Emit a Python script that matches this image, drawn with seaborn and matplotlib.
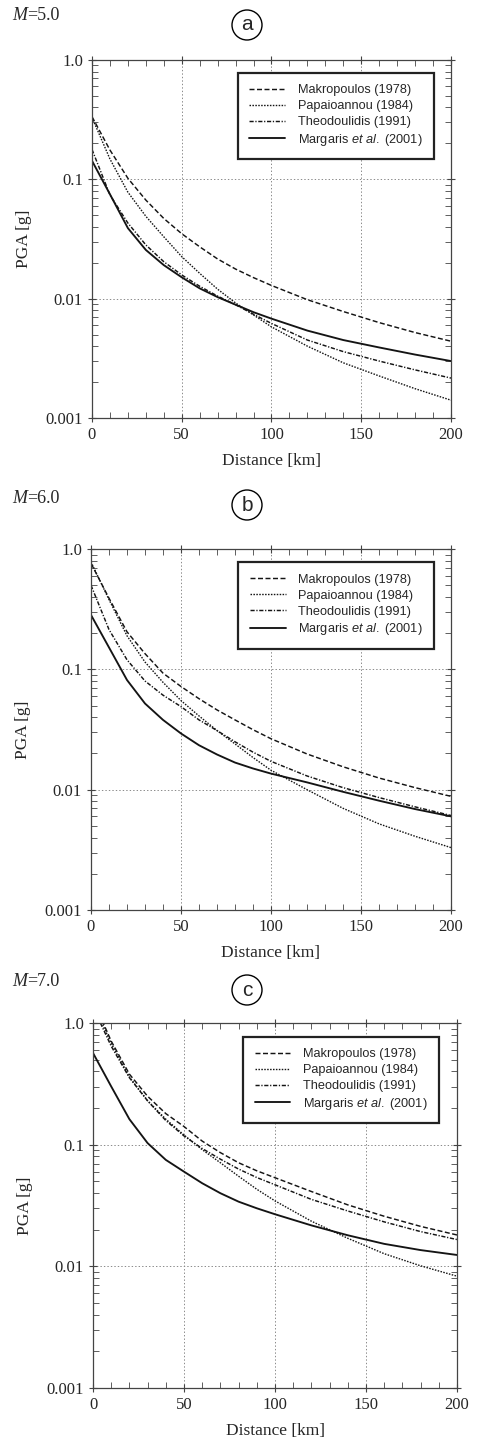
import pandas as pd
import seaborn as sns
import matplotlib.pyplot as plt
from matplotlib.patches import Ellipse
from matplotlib.ticker import FixedLocator, MultipleLocator, LogLocator, NullFormatter

# epicentral distance [km], same sampling for every curve
dist = [0, 10, 20, 30, 40, 50, 60, 70, 80, 90, 100, 120, 140, 160, 180, 200]

# PGA [g], M = 5.0
makro_a = [0.335, 0.176, 0.102, 0.067, 0.047, 0.035, 0.0272, 0.0215, 0.0177, 0.0150, 0.0129, 0.0098, 0.0078, 0.0063, 0.0052, 0.0044]
papa_a = [0.33, 0.148, 0.078, 0.049, 0.033, 0.0225, 0.0163, 0.0120, 0.0092, 0.0073, 0.0058, 0.0040, 0.0029, 0.00225, 0.00176, 0.00141]
theo_a = [0.178, 0.074, 0.043, 0.0282, 0.0204, 0.0158, 0.0127, 0.0105, 0.0089, 0.0074, 0.0062, 0.0045, 0.0036, 0.0030, 0.00253, 0.00216]
marg_a = [0.143, 0.075, 0.039, 0.0256, 0.0191, 0.0151, 0.0122, 0.0103, 0.0089, 0.0077, 0.0068, 0.0054, 0.0045, 0.0039, 0.0034, 0.0030]

# PGA [g], M = 6.0
makro_b = [0.76, 0.39, 0.205, 0.135, 0.093, 0.072, 0.057, 0.046, 0.038, 0.0315, 0.0265, 0.0198, 0.0155, 0.0125, 0.0104, 0.0088]
papa_b = [0.78, 0.38, 0.19, 0.115, 0.078, 0.055, 0.041, 0.031, 0.024, 0.0185, 0.0145, 0.0100, 0.0070, 0.0052, 0.0041, 0.0033]
theo_b = [0.50, 0.214, 0.12, 0.080, 0.061, 0.049, 0.038, 0.031, 0.025, 0.0205, 0.0172, 0.0130, 0.0104, 0.0086, 0.0072, 0.0061]
marg_b = [0.283, 0.152, 0.0815, 0.052, 0.038, 0.0293, 0.0234, 0.0196, 0.0168, 0.0150, 0.0136, 0.0115, 0.0096, 0.0081, 0.0069, 0.0060]

# PGA [g], M = 7.0
makro_c = [1.55, 0.71, 0.38, 0.25, 0.18, 0.141, 0.107, 0.086, 0.071, 0.061, 0.0535, 0.0412, 0.0320, 0.0258, 0.0213, 0.0181]
papa_c = [1.45, 0.68, 0.36, 0.23, 0.162, 0.12, 0.091, 0.071, 0.055, 0.043, 0.0345, 0.0235, 0.0170, 0.0127, 0.0101, 0.0083]
theo_c = [1.35, 0.645, 0.355, 0.229, 0.158, 0.118, 0.093, 0.076, 0.063, 0.0537, 0.0468, 0.0355, 0.0285, 0.0232, 0.0193, 0.0166]
marg_c = [0.567, 0.301, 0.162, 0.103, 0.075, 0.060, 0.0482, 0.0399, 0.034, 0.030, 0.0268, 0.0217, 0.0180, 0.0153, 0.0136, 0.0124]

models = ["Makropoulos (1978)", "Papaioannou (1984)", "Theodoulidis (1991)",
          r"Margaris $\mathit{et\ al.}$ (2001)"]
magnitudes = ["=5.0", "=6.0", "=7.0"]
letters = ["a", "b", "c"]
series = [[makro_a, papa_a, theo_a, marg_a],
          [makro_b, papa_b, theo_b, marg_b],
          [makro_c, papa_c, theo_c, marg_c]]

sns.set_style("ticks")
plt.rcParams["font.family"] = ["Liberation Serif", "DejaVu Serif"]
plt.rcParams["mathtext.fontset"] = "custom"
plt.rcParams["mathtext.rm"] = "Liberation Sans"
plt.rcParams["mathtext.it"] = "Liberation Sans:italic"
plt.rcParams["lines.scale_dashes"] = False

styles = [(0, (3.6, 1.8)), (0, (1.1, 1.0)), (0, (3.0, 1.2, 0.9, 1.2)), "-"]
widths = [1.05, 1.0, 1.05, 1.35]
ink = "#141414"

W, H = 485, 1442
fig = plt.figure(figsize=(W / 100, H / 100), dpi=100)

# panel layout in pixels: left, top, right, bottom
boxes = [(92, 60, 451, 418), (91, 549, 451, 910), (93, 1023, 457, 1388)]
label_y = [15, 498, 982]
circle_y = [25, 505, 990]
legend_anchor = [(0.953, 0.964), (0.954, 0.963), (0.951, 0.962)]

for i in range(3):
    l, t, r, b = boxes[i]
    ax = fig.add_axes([l / W, 1 - b / H, (r - l) / W, (b - t) / H])
    ax.set_yscale("log")
    ax.set_axisbelow(True)

    for m, vals, ls, lw in zip(models, series[i], styles, widths):
        df = pd.DataFrame({"dist": dist, "pga": vals})
        sns.lineplot(data=df, x="dist", y="pga", ax=ax, label=m, color=ink,
                     linestyle=ls, linewidth=lw, estimator=None, sort=False)

    ax.set_xlim(0, 200)
    ax.set_ylim(0.001, 1.0)
    ax.xaxis.set_major_locator(MultipleLocator(50))
    ax.xaxis.set_minor_locator(MultipleLocator(10))
    ax.yaxis.set_major_locator(FixedLocator([0.001, 0.01, 0.1, 1.0]))
    ax.set_yticklabels(["0.001", "0.01", "0.1", "1.0"])
    ax.yaxis.set_minor_locator(LogLocator(base=10, subs=range(2, 10)))
    ax.yaxis.set_minor_formatter(NullFormatter())

    ax.grid(True, which="major", color="#8a8a8a", linestyle=(0, (1, 1.5)), linewidth=0.7)
    ax.tick_params(which="major", direction="inout", length=6, width=0.8,
                   labelsize=12, top=True, right=True, color="#444")
    ax.tick_params(which="minor", direction="in", length=4, width=0.6,
                   top=True, right=True, color="#444")
    for sp in ax.spines.values():
        sp.set_color("#444")
        sp.set_linewidth(0.9)

    ax.set_xlabel("Distance [km]", fontsize=12.5, labelpad=7)
    ax.set_ylabel("PGA [g]", fontsize=12.5, labelpad=10)

    leg = ax.legend(loc="upper right", bbox_to_anchor=legend_anchor[i],
                    prop={"family": "Liberation Sans", "size": 9.2},
                    frameon=True, fancybox=False, edgecolor="#222", framealpha=1,
                    handlelength=2.8, handletextpad=1.0, labelspacing=0.3,
                    borderpad=0.9, borderaxespad=0)
    leg.get_frame().set_linewidth(1.6)

    # magnitude label and panel letter
    mt = fig.text(12 / W, 1 - label_y[i] / H, "M", fontsize=13, style="italic", va="center")
    ax.annotate(magnitudes[i], xy=(1, 0.5), xycoords=mt, va="center", ha="left",
                fontsize=13, annotation_clip=False)
    fig.add_artist(Ellipse((247 / W, 1 - circle_y[i] / H), 30 / W, 30 / H,
                           transform=fig.transFigure, fill=False, ec="black", lw=1.0))
    fig.text(247 / W, 1 - circle_y[i] / H, letters[i], fontsize=15,
             family="Liberation Sans", ha="center", va="center")

fig.savefig("out.png", dpi=100)
